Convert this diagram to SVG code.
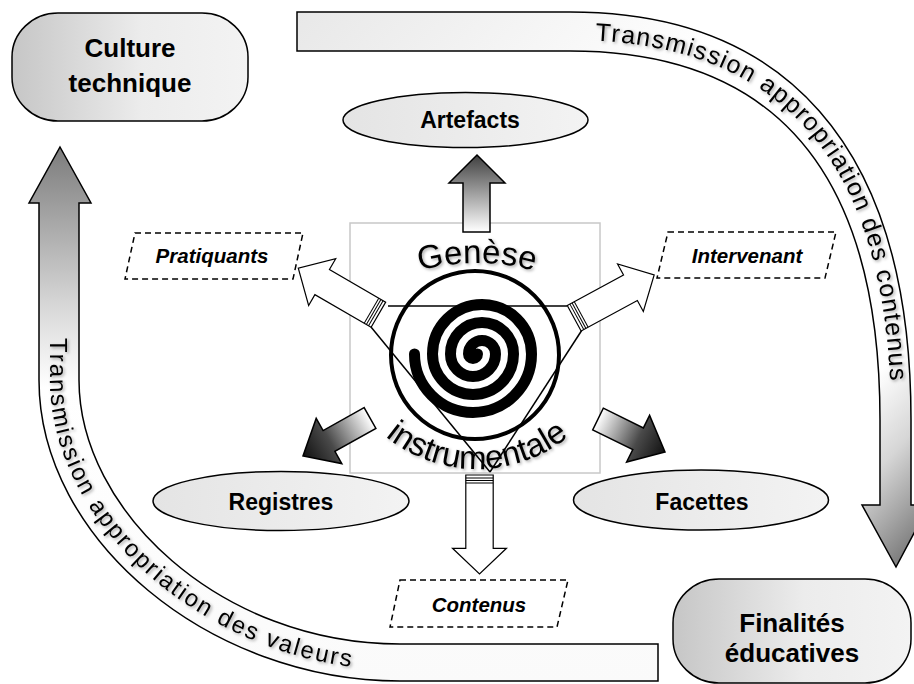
<svg xmlns="http://www.w3.org/2000/svg" width="914" height="684" viewBox="0 0 914 684">
<style>
  .lbl { font-family: "Liberation Sans", Arial, sans-serif; font-weight: bold; fill: #000; text-anchor: middle; }
  .big { font-size: 26px; }
  .mid { font-size: 23px; }
  .ital { font-family: "Liberation Sans", Arial, sans-serif; font-weight: bold; font-style: italic; font-size: 20.5px; text-anchor: middle; }
  .ell { fill: url(#gEll); stroke: #000; stroke-width: 1.5; }
  .pill { fill: url(#gPill); stroke: #000; stroke-width: 1.5; }
  .dash { fill: #fff; stroke: #000; stroke-width: 1.5; stroke-dasharray: 6 4; }
  .band { stroke: #000; stroke-width: 1.5; stroke-linejoin: miter; }
  .warrow { fill: #fff; stroke: #000; stroke-width: 1.2; stroke-linejoin: miter; }
  .stripe { stroke: #000; stroke-width: 1; }
  .curve { font-family: "Liberation Sans", Arial, sans-serif; fill: #000; }
  .gen { font-family: "Liberation Sans", Arial, sans-serif; font-size: 33px; fill: #000; text-anchor: middle; }
  .tri { stroke: #000; stroke-width: 1.5; fill: none; }
</style>
<defs>
  <linearGradient id="gPill" x1="0" y1="0" x2="1" y2="0">
    <stop offset="0" stop-color="#c6c6c6"/>
    <stop offset="0.55" stop-color="#ececec"/>
    <stop offset="1" stop-color="#f3f3f3"/>
  </linearGradient>
  <linearGradient id="gEll" x1="0" y1="0" x2="1" y2="0">
    <stop offset="0" stop-color="#e4e4e4"/>
    <stop offset="1" stop-color="#f3f3f3"/>
  </linearGradient>
  <linearGradient id="gTop" gradientUnits="userSpaceOnUse" x1="297" y1="12" x2="900" y2="567">
    <stop offset="0" stop-color="#e8e8e8"/>
    <stop offset="0.4" stop-color="#ffffff"/>
    <stop offset="0.82" stop-color="#ffffff"/>
    <stop offset="0.9" stop-color="#d6d6d6"/>
    <stop offset="0.95" stop-color="#a8a8a8"/>
    <stop offset="1" stop-color="#787878"/>
  </linearGradient>
  <linearGradient id="gLeft" gradientUnits="userSpaceOnUse" x1="0" y1="147" x2="0" y2="681">
    <stop offset="0" stop-color="#7c7c7c"/>
    <stop offset="0.3" stop-color="#d8d8d8"/>
    <stop offset="0.45" stop-color="#ffffff"/>
    <stop offset="1" stop-color="#fafafa"/>
  </linearGradient>
  <linearGradient id="gArt" gradientUnits="userSpaceOnUse" x1="0" y1="232" x2="0" y2="155">
    <stop offset="0" stop-color="#ffffff"/>
    <stop offset="1" stop-color="#404040"/>
  </linearGradient>
  <linearGradient id="gReg" gradientUnits="userSpaceOnUse" x1="370" y1="418" x2="303" y2="456">
    <stop offset="0" stop-color="#ffffff"/>
    <stop offset="0.6" stop-color="#4a4a4a"/>
    <stop offset="1" stop-color="#111111"/>
  </linearGradient>
  <linearGradient id="gFac" gradientUnits="userSpaceOnUse" x1="598" y1="419" x2="665" y2="452">
    <stop offset="0" stop-color="#ffffff"/>
    <stop offset="0.6" stop-color="#4a4a4a"/>
    <stop offset="1" stop-color="#111111"/>
  </linearGradient>
  <filter id="sh" x="-10%" y="-10%" width="120%" height="130%">
    <feDropShadow dx="1.5" dy="1.5" stdDeviation="1.5" flood-color="#000" flood-opacity="0.35"/>
  </filter>
  <path id="tpTop" d="M 297,40 L 570,40 C 772,40 891,150 891,420 L 891,560"/>
  <path id="tpLeft" d="M 50,203 L 50,380 C 50,530 215,670 400,670 L 658,670"/>
  <path id="tpGen" d="M 338.2,313.5 A 216 216 0 0 1 615.8,313.5"/>
  <path id="tpIns" d="M 350.6,396 A 146 146 0 0 0 603.4,396"/>
</defs>

<rect id="frame" x="350" y="223" width="250" height="250" fill="none" stroke="#c8c8c8" stroke-width="1.5"/>

<g id="bands">
  <g id="band-contenus">
    <path class="band" fill="url(#gTop)" d="M 297,12 L 570,12 C 780,12 911,140 911,420 L 911,505 L 929,505 L 896,567 L 862,505 L 880,505 L 880,420 C 880,160 765,51 570,51 L 297,51 Z"/>
    <text class="curve" font-size="25" filter="url(#sh)" letter-spacing="1.3"><textPath href="#tpTop" startOffset="298">Transmission appropriation des contenus</textPath></text>
  </g>
  <g id="band-valeurs">
    <path class="band" fill="url(#gLeft)" d="M 60,147 L 91,203 L 79,203 L 79,380 C 79,510 220,644 400,644 L 658,644 L 658,681 L 400,681 C 210,681 39,540 39,380 L 39,203 L 29,203 Z"/>
    <text class="curve" font-size="24" filter="url(#sh)" letter-spacing="2"><textPath href="#tpLeft" startOffset="135">Transmission appropriation des valeurs</textPath></text>
  </g>
</g>

<g id="culture-technique">
  <rect class="pill" x="12" y="13" width="236" height="108" rx="46" ry="44"/>
  <text class="lbl big" x="130" y="57">Culture</text>
  <text class="lbl big" x="130" y="92">technique</text>
</g>

<g id="finalites-educatives">
  <rect class="pill" x="673" y="579" width="238" height="104" rx="46" ry="44"/>
  <text class="lbl big" x="792" y="632">Finalités</text>
  <text class="lbl big" x="792" y="662">éducatives</text>
</g>

<g id="artefacts">
  <ellipse class="ell" cx="465.5" cy="120" rx="122.5" ry="27.5"/>
  <text class="lbl mid" x="470" y="128">Artefacts</text>
</g>

<g id="registres">
  <ellipse class="ell" cx="281" cy="501" rx="128" ry="29.5"/>
  <text class="lbl mid" x="281" y="510">Registres</text>
</g>

<g id="facettes">
  <ellipse class="ell" cx="701" cy="500" rx="127.5" ry="30"/>
  <text class="lbl mid" x="702" y="510">Facettes</text>
</g>

<g id="pratiquants">
  <polygon class="dash" points="135,233 303,233 293,279 125,279"/>
  <text class="ital" x="212" y="263">Pratiquants</text>
</g>

<g id="intervenant">
  <polygon class="dash" points="668,232 836,232 825,278 657,278"/>
  <text class="ital" x="747" y="263">Intervenant</text>
</g>

<g id="contenus">
  <polygon class="dash" points="400,580 568,580 557,627 390,627"/>
  <text class="ital" x="479" y="612">Contenus</text>
</g>

<g id="genese">
  <circle cx="475" cy="355" r="84" fill="none" stroke="#000" stroke-width="4"/>
  <path d="M 477.5,354 A 4.5 4.5 0 0 1 468.5,354 A 13.5 13.5 0 0 1 495.5,354 A 22.5 22.5 0 0 1 450.5,354 A 31.5 31.5 0 0 1 513.5,354 A 40.5 40.5 0 0 1 432.5,354 A 49.5 49.5 0 0 1 531.5,354 A 58.5 58.5 0 0 1 414.5,354" fill="none" stroke="#000" stroke-width="11" stroke-linecap="round"/>
  <text class="gen" filter="url(#sh)"><textPath href="#tpGen" startOffset="50%">Genèse</textPath></text>
  <text class="gen" filter="url(#sh)"><textPath href="#tpIns" startOffset="50%">instrumentale</textPath></text>
</g>

<g id="connectors">
  <line class="tri" x1="388" y1="306" x2="567" y2="306"/>
  <line class="tri" x1="371" y1="327" x2="490" y2="472"/>
  <line class="tri" x1="582" y1="330" x2="490" y2="472"/>
  <path id="arrow-artefacts" class="band" fill="url(#gArt)" d="M 463,232 L 463,183 L 449,183 L 477,155 L 505,183 L 490,183 L 490,232 Z"/>
  <path id="arrow-registres" class="band" fill="url(#gReg)" d="M 364.1,407.6 L 323.1,430.6 L 316.2,418.4 L 303,456 L 341.8,463.6 L 334.9,451.4 L 375.9,428.4 Z"/>
  <path id="arrow-facettes" class="band" fill="url(#gFac)" d="M 603.3,408.2 L 643.4,427.9 L 649.6,415.4 L 665,452 L 626.6,462 L 632.8,449.5 L 592.7,429.8 Z"/>
  <g id="arrow-pratiquants" transform="translate(378.4,314.7) rotate(210.1)">
    <path class="warrow" d="M 0,-14.5 L 65,-14.5 L 65,-27 L 92.6,0 L 65,27 L 65,14.5 L 0,14.5 Z"/>
    <line class="stripe" x1="3" y1="-14.5" x2="3" y2="14.5"/>
    <line class="stripe" x1="5.5" y1="-14.5" x2="5.5" y2="14.5"/>
    <line class="stripe" x1="8" y1="-14.5" x2="8" y2="14.5"/>
  </g>
  <g id="arrow-intervenant" transform="translate(574.2,318.3) rotate(-28.5)">
    <path class="warrow" d="M 0,-14.5 L 64,-14.5 L 64,-27 L 91,0 L 64,27 L 64,14.5 L 0,14.5 Z"/>
    <line class="stripe" x1="3" y1="-14.5" x2="3" y2="14.5"/>
    <line class="stripe" x1="5.5" y1="-14.5" x2="5.5" y2="14.5"/>
    <line class="stripe" x1="8" y1="-14.5" x2="8" y2="14.5"/>
  </g>
  <g id="arrow-contenus" transform="translate(479.5,475) rotate(90)">
    <path class="warrow" d="M 0,-13.7 L 73.3,-13.7 L 73.3,-27 L 99,0 L 73.3,27 L 73.3,13.7 L 0,13.7 Z"/>
    <line class="stripe" x1="3" y1="-13.7" x2="3" y2="13.7"/>
    <line class="stripe" x1="5.5" y1="-13.7" x2="5.5" y2="13.7"/>
    <line class="stripe" x1="8" y1="-13.7" x2="8" y2="13.7"/>
  </g>
</g>
</svg>
